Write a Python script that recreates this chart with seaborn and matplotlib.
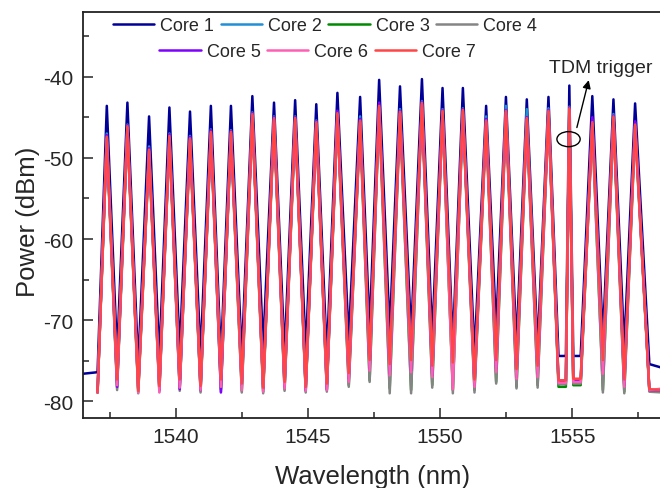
import matplotlib
matplotlib.use('Agg')
import pandas as pd
import matplotlib.pyplot as plt
import seaborn as sns
from matplotlib.patches import Ellipse
from matplotlib.lines import Line2D
from matplotlib.ticker import MultipleLocator

# Spectrum: peak centres, valley floors, tops per core
cores = ['Core 1', 'Core 2', 'Core 3', 'Core 4', 'Core 5', 'Core 6', 'Core 7']
colors = ['#000099', '#1f8fd6', '#008a00', '#858585', '#8000ff', '#ff5eb5', '#ff4545']

peak_wl = [1537.38, 1538.16, 1538.98, 1539.75, 1540.53, 1541.32, 1542.08, 1542.89,
           1543.71, 1544.51, 1545.31, 1546.11, 1546.97, 1547.69, 1548.48, 1549.31,
           1550.09, 1550.86, 1551.74, 1552.49, 1553.28, 1554.10, 1554.89, 1555.76,
           1556.56, 1557.38]
# valleys between peaks (the two next to the TDM trigger are flat-bottomed)
valley_wl = [[1537.03], [1537.77], [1538.57], [1539.37], [1540.14], [1540.93], [1541.70],
             [1542.49], [1543.30], [1544.11], [1544.91], [1545.71], [1546.54], [1547.33],
             [1548.09], [1548.90], [1549.70], [1550.48], [1551.30], [1552.12], [1552.89],
             [1553.69], [1554.48, 1554.76], [1555.04, 1555.32], [1556.16], [1556.97],
             [1557.92]]
edge_wl = [1536.45, 1558.45]

tops_1 = [-43.6, -43.2, -44.9, -43.8, -44.3, -43.6, -43.6, -42.4, -43.2, -42.9, -43.4, -42.0, -42.5,
          -40.4, -41.2, -40.3, -41.4, -41.4, -43.6, -42.5, -42.8, -42.5, -41.1, -42.4, -42.8, -43.3]
tops_2 = [-47.0, -45.9, -48.6, -47.0, -47.3, -46.5, -46.6, -44.4, -44.9, -44.9, -45.4, -44.3, -44.9,
          -43.4, -44.0, -43.0, -44.0, -43.9, -44.9, -43.6, -44.0, -43.9, -43.7, -45.3, -44.6, -45.6]
tops_3 = [-47.8, -46.5, -49.4, -47.7, -48.0, -47.2, -47.2, -45.0, -45.5, -45.5, -46.0, -44.9, -45.8,
          -44.0, -44.7, -43.6, -44.6, -44.5, -45.8, -44.6, -45.5, -44.6, -44.3, -46.0, -45.3, -46.3]
tops_4 = [-48.0, -46.8, -49.6, -48.0, -48.2, -47.5, -47.4, -45.3, -45.8, -45.7, -46.2, -45.1, -46.0,
          -44.2, -44.9, -43.8, -44.8, -44.7, -46.0, -44.8, -45.7, -44.8, -44.5, -46.2, -45.5, -46.5]
tops_5 = [-47.2, -46.0, -48.8, -47.1, -47.4, -46.6, -46.7, -44.5, -45.0, -45.0, -45.5, -44.2, -45.2,
          -43.2, -44.2, -43.1, -44.1, -44.0, -45.2, -44.1, -45.0, -44.1, -43.8, -45.0, -44.8, -45.5]
tops_6 = [-47.6, -46.3, -49.2, -47.5, -47.8, -47.0, -47.0, -44.8, -45.3, -45.3, -45.8, -44.7, -45.6,
          -43.8, -44.5, -43.4, -44.4, -44.3, -45.6, -44.4, -45.3, -44.4, -44.1, -45.8, -45.1, -46.1]
tops_7 = [-47.4, -46.1, -49.0, -47.3, -47.6, -46.8, -46.8, -44.6, -45.1, -45.1, -45.6, -44.5, -45.4,
          -43.6, -44.3, -43.2, -44.2, -44.1, -45.4, -44.2, -45.1, -44.2, -43.9, -45.6, -44.9, -45.9]

valleys_1 = [-76.4, -74.2, -75.6, -74.6, -73.8, -74.4, -74.8, -74.6, -73.4, -74.2, -73.8, -74.4, -72.4, -71.2,
             -71.4, -71.8, -72.2, -73.0, -74.2, -71.0, -73.0, -73.4, -74.4, -74.4, -72.2, -73.4, -75.4]
valleys_2 = [-78.7, -77.6, -78.5, -78.2, -77.6, -78.2, -77.6, -78.0, -78.4, -77.8, -78.3, -78.0, -76.8, -75.6,
             -75.8, -75.5, -76.0, -75.8, -77.5, -75.4, -76.4, -76.2, -77.4, -77.3, -75.4, -77.5, -78.6]
valleys_3 = [-78.9, -78.3, -78.8, -78.6, -78.4, -78.7, -78.5, -78.7, -78.8, -78.5, -78.7, -78.6, -78.0, -77.4,
             -78.4, -78.6, -78.0, -78.6, -78.6, -77.6, -78.2, -78.0, -78.2, -78.0, -78.6, -78.8, -78.7]
valleys_4 = [-78.9, -78.6, -79.0, -78.8, -78.7, -78.9, -78.8, -78.9, -79.0, -78.7, -78.9, -78.8, -78.2, -77.6,
             -79.0, -79.0, -78.3, -79.0, -78.9, -77.8, -78.4, -78.3, -77.9, -77.8, -78.9, -79.0, -78.8]
valleys_5 = [-78.9, -78.2, -78.4, -78.6, -78.5, -78.6, -78.9, -78.0, -78.4, -78.2, -78.6, -78.5, -77.2, -76.0,
             -76.6, -76.2, -76.8, -76.5, -78.0, -76.0, -77.0, -76.6, -77.6, -77.5, -76.2, -78.0, -78.6]
valleys_6 = [-78.9, -78.0, -78.9, -78.9, -78.3, -78.6, -78.2, -78.6, -78.8, -78.4, -78.7, -78.6, -77.6, -76.2,
             -76.8, -76.4, -77.0, -78.5, -78.2, -76.4, -77.2, -77.0, -77.7, -77.6, -76.6, -78.2, -78.6]
valleys_7 = [-78.9, -77.3, -78.7, -78.1, -77.3, -78.1, -77.3, -77.8, -78.3, -77.6, -78.2, -77.8, -76.5, -74.9,
             -75.4, -74.9, -75.6, -75.2, -77.3, -74.9, -76.0, -75.6, -77.4, -77.2, -74.9, -77.3, -78.5]

# flat noise floor at both ends of the span (only Core 1 shows on the left)
edges_1 = [-76.6, -75.9]
edges_2 = [None, -78.7]
edges_3 = [None, -78.7]
edges_4 = [None, -78.9]
edges_5 = [None, -78.6]
edges_6 = [None, -78.4]
edges_7 = [None, -78.6]

all_tops = [tops_1, tops_2, tops_3, tops_4, tops_5, tops_6, tops_7]
all_valleys = [valleys_1, valleys_2, valleys_3, valleys_4, valleys_5, valleys_6, valleys_7]
all_edges = [edges_1, edges_2, edges_3, edges_4, edges_5, edges_6, edges_7]

rows = []
for name, tops, valleys, edges in zip(cores, all_tops, all_valleys, all_edges):
    pts = [(edge_wl[0], edges[0])]
    for k, vw in enumerate(valley_wl):
        for w in vw:
            pts.append((w, valleys[k]))
        if k < len(peak_wl):
            pts.append((peak_wl[k], tops[k]))
    pts.append((edge_wl[1], edges[1]))
    for w, p in pts:
        if p is not None:
            rows.append({'Wavelength': w, 'Power': p, 'Core': name})
df = pd.DataFrame(rows)

sns.set_style('ticks')
plt.rcParams['font.family'] = ['Liberation Sans', 'DejaVu Sans']
plt.rcParams['axes.unicode_minus'] = False

fig = plt.figure(figsize=(6.6, 4.89), dpi=100)
ax = fig.add_axes([0.1258, 0.1438, 0.8773, 0.8303])

sns.lineplot(data=df, x='Wavelength', y='Power', hue='Core', hue_order=cores,
             palette=colors, estimator=None, sort=False, lw=1.8, legend=False, ax=ax)

ax.set_xlim(1536.48, 1558.40)
ax.set_ylim(-82, -32)
ax.xaxis.set_major_locator(MultipleLocator(5))
ax.xaxis.set_minor_locator(MultipleLocator(2.5))
ax.yaxis.set_major_locator(MultipleLocator(10))
ax.yaxis.set_minor_locator(MultipleLocator(5))
ax.tick_params(which='major', direction='in', length=7, width=1.1, labelsize=15, pad=7,
               top=False, right=False)
ax.tick_params(which='minor', direction='in', length=4, width=1.1, top=False, right=False)
for s in ax.spines.values():
    s.set_linewidth(1.3)
    s.set_color('#222222')

ax.set_xlabel('Wavelength (nm)', fontsize=18.5)
ax.set_ylabel('Power (dBm)', fontsize=18.5)
ax.xaxis.set_label_coords(0.5, -0.143)
ax.xaxis.label.set_va('center')
ax.yaxis.set_label_coords(-0.095, 0.485)
ax.yaxis.label.set_va('center')

handles = [Line2D([], [], color=c, lw=1.8) for c in colors]
leg_kw = dict(loc='center', frameon=False, fontsize=13, handlelength=2.3, handletextpad=0.33,
              columnspacing=0.35, borderpad=0, borderaxespad=0)
leg1 = ax.legend(handles[:4], cores[:4], ncol=4, bbox_to_anchor=(0.418, 0.9655), **leg_kw)
ax.add_artist(leg1)
ax.legend(handles[4:], cores[4:], ncol=3, bbox_to_anchor=(0.405, 0.901), **leg_kw)

# TDM trigger annotation
ax.add_patch(Ellipse((1554.86, -47.7), width=0.88, height=1.85, fill=False, ec='black', lw=1, zorder=5))
ax.annotate('', xy=(1555.65, -40.1), xytext=(1555.15, -46.6),
            arrowprops=dict(arrowstyle='-|>', color='black', lw=1, mutation_scale=12))
ax.text(1556.09, -38.84, 'TDM trigger', ha='center', va='center', fontsize=14)

fig.savefig('out.png', dpi=100)
